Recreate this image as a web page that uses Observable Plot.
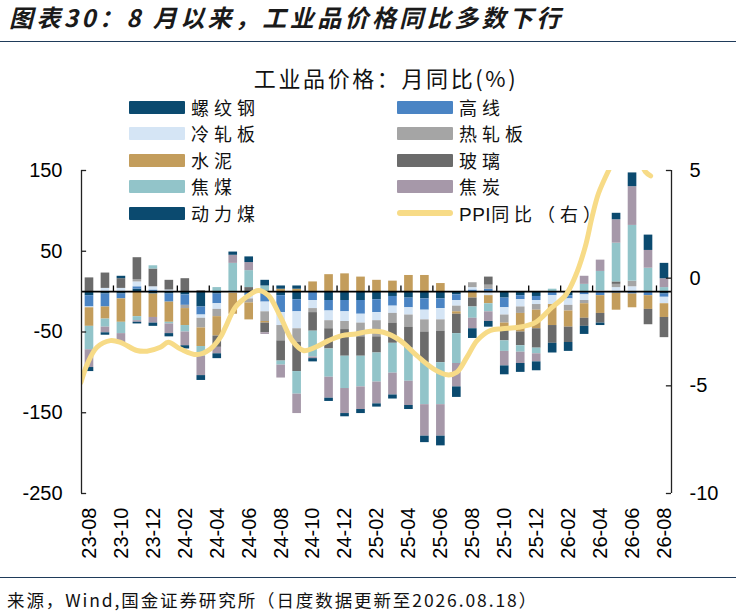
<!DOCTYPE html>
<html><head><meta charset="utf-8">
<script src="https://cdn.jsdelivr.net/npm/d3@7"></script>
<script src="https://cdn.jsdelivr.net/npm/@observablehq/plot@0.6"></script>
<style>
body{margin:0;background:#fff;}
#wrap{position:relative;width:736px;height:613px;overflow:hidden;font-family:"Noto Sans CJK SC",sans-serif;color:#111;}
.abs{position:absolute;white-space:nowrap;}
#title{left:9px;top:4px;font-size:24px;line-height:26px;font-weight:bold;font-style:italic;letter-spacing:3.4px;color:#1a1a1a;}
.rule{left:0;width:736px;height:0;border-top:1.6px solid #1f3b5a;}
#sub{left:386px;top:66px;transform:translateX(-50%);font-size:22px;line-height:22px;letter-spacing:2.6px;}
.lg{font-size:18px;line-height:19px;letter-spacing:5px;}
.tight{letter-spacing:0.5px;font-family:"Liberation Sans",Arial,sans-serif;font-size:19px;}
.sw{position:absolute;width:56px;height:13px;}
#foot{left:7px;top:591px;font-size:17.5px;line-height:18px;letter-spacing:1.9px;}
</style></head>
<body><div id="wrap"></div>
<script>
const months = ["23-08","23-09","23-10","23-11","23-12","24-01","24-02","24-03","24-04","24-05","24-06","24-07","24-08","24-09","24-10","24-11","24-12","25-01","25-02","25-03","25-04","25-05","25-06","25-07","25-08","25-09","25-10","25-11","25-12","26-01","26-02","26-03","26-04","26-05","26-06","26-07","26-08"];
const seriesNames = ["螺纹钢","高线","冷轧板","热轧板","水泥","玻璃","焦煤","焦炭","动力煤"];
const seriesColors = ["#0b4a6f","#4a84c4","#d5e5f5","#a5a5a5","#c39d5c","#6b6b6b","#92c4c9","#a698a9","#0b4a6f"];
const rebar   = [-5,-3,-3,3,-3,-3,-4,-19,-3,0,0,0,-5,-10,0,-11,-11,-11,-10,-6,-8,-9,-9,-4,0,0,-8,-5,-6,0,-5,0,0,0,0,0,-3];
const wireRod = [-14,-16,-6,3,2,-10,-13,-10,-12,0,-5,-13,-21,-15,-11,-13,-14,-17,-16,-12,-12,-14,-12,-7,2,3,-12,-5,-5,-5,-4,-4,-5,-2,-3,-5,-4];
const coldRolled = [-1,4,4,6,4,2,0,-4,-7,-2,-4,-12,-16,-21,-10,-12,-12,-11,-10,-9,-9,-12,-14,-7,3,-5,-9,-9,-5,-11,-8,-7,1,5,6,0,-8];
const hotRolled = [0,0,0,3,0,0,-4,-12,-9,0,-5,-12,-19,-17,-5,-10,-10,-17,-20,-12,-15,-15,-14,-7,6,5,-10,-8,-7,0,-7,-4,0,4,7,0,0];
const cement  = [-23,-15,-29,-31,-29,-25,-21,-23,-24,-26,-21,-2,3,3,12,21,22,18,14,13,20,20,10,-3,-8,-10,-6,-23,-23,-26,-20,-18,-22,-21,-17,-17,-17];
const glass   = [17,19,12,27,22,12,16,1,-14,0,5,-12,-25,-36,-23,-25,-33,-24,-20,-25,-26,-38,-39,-24,-11,10,-16,-17,-24,-22,-19,-10,-12,3,0,-19,-25];
const cokingCoal = [-29,-10,-14,-5,4,-2,-8,-12,5,35,21,7,-5,-28,-32,-35,-40,-38,-36,-37,-41,-52,-52,-37,-14,-10,-13,-8,-7,3,0,9,24,48,69,29,5];
const coke    = [-22,-7,-11,-2,-7,-12,-17,-24,-8,10,10,-2,-16,-24,-2,-26,-31,-28,-27,-27,-30,-39,-39,-29,-13,-12,-18,-14,-10,0,0,10,14,29,48,22,11];
const thermalCoal = [-5,-3,3,-2,-4,-4,-4,-6,-6,4,7,7,4,4,-4,-4,-4,-5,-4,-5,-5,-8,-12,-13,-12,-7,-11,-11,-11,-12,-11,-10,-3,8,17,19,19];
const ppiDates = ["2023-07-15","2023-07-27","2023-08-15","2023-09-10","2023-09-29","2023-10-30","2023-11-19","2023-12-14","2023-12-29","2024-01-22","2024-02-23","2024-03-18","2024-04-07","2024-04-16","2024-05-05","2024-05-30","2024-06-18","2024-07-07","2024-07-30","2024-08-22","2024-09-13","2024-10-05","2024-10-30","2024-11-25","2024-12-21","2025-01-19","2025-02-13","2025-03-15","2025-04-16","2025-05-17","2025-06-13","2025-07-01","2025-07-20","2025-08-09","2025-09-04","2025-09-26","2025-10-27","2025-11-29","2025-12-30","2026-01-25","2026-02-13","2026-03-02","2026-03-15","2026-03-27","2026-04-16","2026-05-05","2026-05-23","2026-06-12","2026-06-25","2026-07-05"];
const ppiValues = [-4.84,-3.98,-3.21,-2.9,-2.98,-3.36,-3.39,-3.21,-2.98,-3.29,-3.55,-3.29,-2.74,-2.3,-1.35,-0.8,-0.57,-0.8,-1.81,-2.9,-3.36,-3.21,-2.9,-2.67,-2.59,-2.47,-2.51,-2.9,-3.6,-4.21,-4.49,-4.37,-3.67,-2.9,-2.43,-2.35,-2.28,-2.05,-1.35,-0.8,0.05,1.44,2.84,3.93,5.0,5.9,6.2,5.6,4.95,4.75];
const leftTicks = [150,50,-50,-150,-250];
const rightTicks = [5,0,-5,-10];
const xLabelIdx = months.map((m,i)=>i).filter(i=>i%2===0);

const seriesValues = [rebar,wireRod,coldRolled,hotRolled,cement,glass,cokingCoal,coke,thermalCoal];
const barData = months.flatMap((m,i)=>seriesNames.map((s,j)=>({i, s, v: seriesValues[j][i]})));
const yL = [-250,150], yR = [-10,5];
const toLeft = p => yL[0] + (p - yR[0]) * (yL[1]-yL[0])/(yR[1]-yR[0]);
const fromLeft = v => Math.round(yR[0] + (v - yL[0]) * (yR[1]-yR[0])/(yL[1]-yL[0]));
const dateIdx = s => { const [Y,M,D] = s.split("-").map(Number); return (Y-2023)*12 + (M-8) + (D-1)/30; };
const ppiData = ppiDates.map((d,k)=>({x: dateIdx(d), p: ppiValues[k]}));

const xDom = [-0.5, 36.44];
const half = 0.27;
const tickLenX = 0.32, tickLenY = 7;
const sepTicks = months.map((m,i)=>i+0.5).filter((v,i)=>i%2===1 && v < 36);

const chart = Plot.plot({
  width: 736, height: 560,
  marginLeft: 81, marginRight: 65, marginTop: 170, marginBottom: 67,
  x: {type: "linear", domain: xDom},
  y: {domain: yL},
  color: {domain: seriesNames, range: seriesColors},
  style: {fontFamily: "'Liberation Sans', Arial, sans-serif", fontSize: "20px", color: "#000", background: "transparent", overflow: "visible"},
  marks: [
    Plot.rectY(barData, {x1: d => d.i - half, x2: d => d.i + half, y: "v", fill: "s"}),
    Plot.ruleY([0], {stroke: "#000", strokeWidth: 1.6}),
    Plot.ruleX(sepTicks, {y1: 0, y2: tickLenY, stroke: "#000", strokeWidth: 1.3}),
    Plot.line(ppiData, {x: "x", y: d => toLeft(d.p), stroke: "#f7db87", strokeWidth: 5, curve: "catmull-rom", clip: true}),
    Plot.ruleX([xDom[0]], {y1: yL[0], y2: yL[1], stroke: "#222", strokeWidth: 1.3}),
    Plot.ruleX([xDom[1]], {y1: yL[0], y2: yL[1], stroke: "#222", strokeWidth: 1.3}),
    Plot.ruleY(leftTicks, {x1: xDom[0], x2: xDom[0] + tickLenX, stroke: "#222", strokeWidth: 1.3}),
    Plot.ruleY(rightTicks.map(toLeft), {x1: xDom[1] - tickLenX, x2: xDom[1], stroke: "#222", strokeWidth: 1.3}),
    Plot.axisY({ticks: leftTicks, tickSize: 0, tickPadding: 19, tickFormat: d => String(d), label: null, fontSize: 20}),
    Plot.axisY({anchor: "right", ticks: rightTicks.map(toLeft), tickSize: 0, tickPadding: 18, tickFormat: d => String(fromLeft(d)), label: null, fontSize: 20}),
    Plot.axisX({ticks: xLabelIdx, tickFormat: i => months[i], tickRotate: -90, tickSize: 0, tickPadding: 14, label: null, fontSize: 20})
  ]
});

const wrap = document.getElementById("wrap");
chart.style.position = "absolute"; chart.style.left = "0px"; chart.style.top = "0px";
wrap.appendChild(chart);

function add(html, cls, css){ const d=document.createElement("div"); d.className="abs "+(cls||""); if(css) d.style.cssText+=css; d.innerHTML=html; wrap.appendChild(d); return d; }
add("图表30：8 月以来，工业品价格同比多数下行","",""); wrap.lastChild.id="title";
add("","rule","top:41px;");
add("工业品价格：月同比(%)","",""); wrap.lastChild.id="sub";
const rowsY = [107.4,133.8,160.2,186.6,213];
const legendItems = seriesNames.map((s,j)=>({label:s,color:seriesColors[j]})).concat([{label:"<span class='tight'>PPI</span>同比（右）",color:"#f7db87",line:true}]);
legendItems.forEach((it,k)=>{
  const col = k%2, row = Math.floor(k/2);
  const sx = col===0 ? 129 : 397, tx = col===0 ? 191 : 459;
  const cy = rowsY[row];
  const sw = document.createElement("div"); sw.className="sw";
  if(it.line){ sw.style.cssText += `left:${sx}px;top:${cy-3}px;height:6px;border-radius:3px;background:${it.color};`; }
  else { sw.style.cssText += `left:${sx}px;top:${cy-6.5}px;background:${it.color};border-radius:1px;`; }
  wrap.appendChild(sw);
  add(it.label,"lg",`left:${tx}px;top:${cy-9.5}px;`);
});
add("","rule","top:577px;");
add("来源，Wind,国金证券研究所（日度数据更新至2026.08.18）","",""); wrap.lastChild.id="foot";
</script></body></html>
